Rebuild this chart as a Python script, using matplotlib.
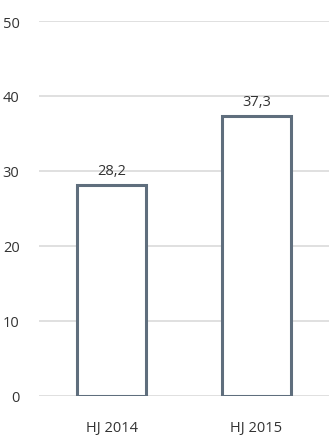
import matplotlib
matplotlib.use("Agg")
import matplotlib.pyplot as plt

categories = ["HJ 2014", "HJ 2015"]
values = [28.2, 37.3]
value_labels = ["28,2", "37,3"]
y_ticks = [0, 10, 20, 30, 40, 50]

plt.rcParams['font.family'] = ['Open Sans', 'DejaVu Sans']
text_color = "#333333"

fig = plt.figure(figsize=(3.29, 4.39), dpi=100)
ax = fig.add_axes([39/329, 1 - 397/439, 290/329, 375/439])

x = list(range(len(categories)))
ax.bar(x, values, width=0.48, color="white",
       edgecolor="#5f6e7d", linewidth=2.2, zorder=3)

for xi, v, lab in zip(x, values, value_labels):
    ax.text(xi, v + 0.9, lab, ha="center", va="bottom",
            fontsize=10.5, color=text_color)

ax.set_xlim(-0.5, 1.5)
ax.set_ylim(0, 50)
ax.set_yticks(y_ticks)
ax.set_yticklabels([str(t) for t in y_ticks])
ax.set_xticks(x)
ax.set_xticklabels(categories)
ax.tick_params(axis="both", length=0, labelsize=10.5, colors=text_color)
ax.tick_params(axis="y", pad=14)
ax.tick_params(axis="x", pad=17)
ax.yaxis.grid(True, color="#dadada", linewidth=1.2, zorder=0)
ax.set_axisbelow(True)
for s in ax.spines.values():
    s.set_visible(False)
ax.patch.set_alpha(0)

fig.savefig("out.png", dpi=100, facecolor="white")
